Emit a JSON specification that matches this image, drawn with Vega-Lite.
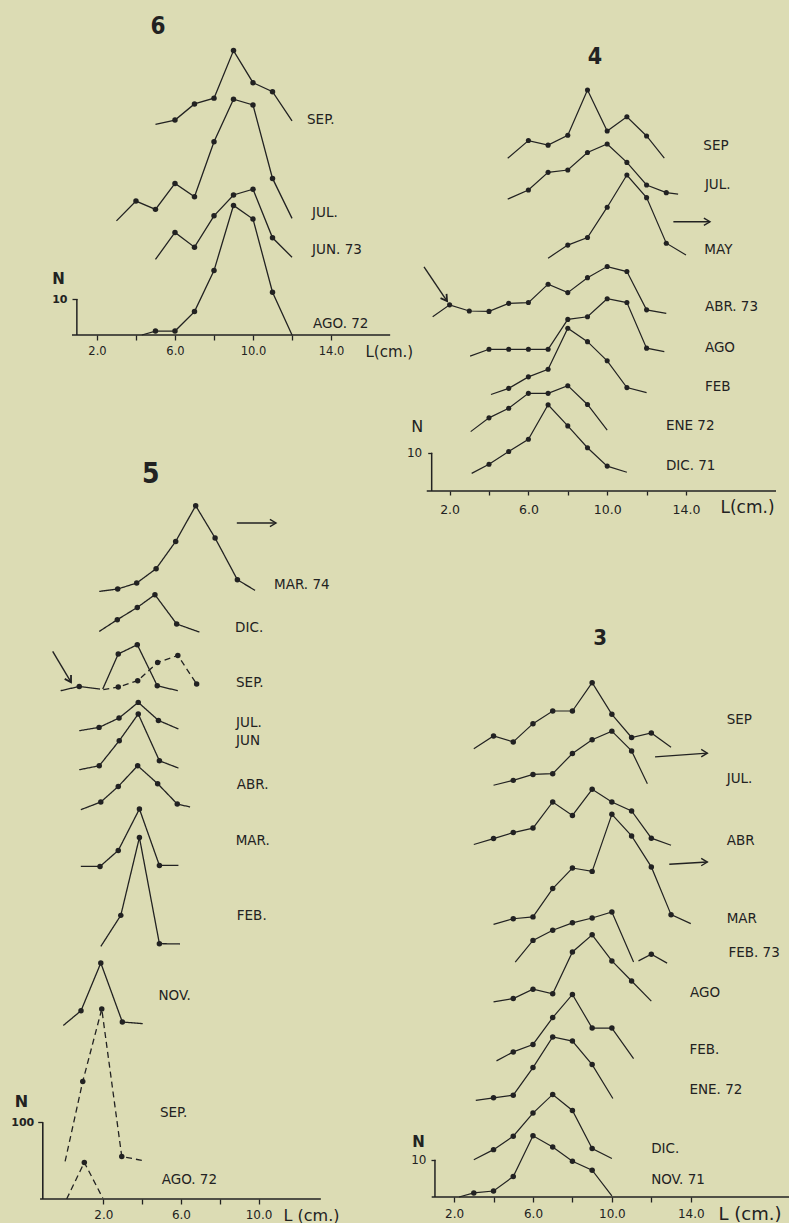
{
"$schema":"https://vega.github.io/schema/vega-lite/v6.json",
"padding":0,
"background":"#dcdcb4",
"config":{"view":{"stroke":null},
 "axis":{"domain":false,"grid":false,"tickColor":"#222","tickWidth":1.3,"labelColor":"#222","titleColor":"#222","labelFont":"DejaVu Sans","titleFont":"DejaVu Sans","titleFontWeight":"normal","labelFontWeight":"normal","labelOverlap":false,"labelFlush":false},
 "axisX":{"titleAlign":"left","titleBaseline":"middle","titleAngle":0,"labelBaseline":"top"},
 "axisY":{"titleAlign":"center","titleBaseline":"middle","titleAngle":0}},
"datasets":{
"c6":[
{"s":"SEP","L":5,"N":58.5,"d":0},{"s":"SEP","L":6,"N":59.7,"d":1},{"s":"SEP","L":7,"N":64.2,"d":1},{"s":"SEP","L":8,"N":65.8,"d":1},{"s":"SEP","L":9,"N":79.0,"d":1},{"s":"SEP","L":10,"N":70.1,"d":1},{"s":"SEP","L":11,"N":67.6,"d":1},{"s":"SEP","L":12,"N":59.5,"d":0},
{"s":"JUL","L":3,"N":31.7,"d":0},{"s":"JUL","L":4,"N":37.2,"d":1},{"s":"JUL","L":5,"N":34.9,"d":1},{"s":"JUL","L":6,"N":42.1,"d":1},{"s":"JUL","L":7,"N":38.4,"d":1},{"s":"JUL","L":8,"N":53.7,"d":1},{"s":"JUL","L":9,"N":65.5,"d":1},{"s":"JUL","L":10,"N":63.9,"d":1},{"s":"JUL","L":11,"N":43.5,"d":1},{"s":"JUL","L":12,"N":32.4,"d":0},
{"s":"JUN","L":5,"N":21.0,"d":0},{"s":"JUN","L":6,"N":28.5,"d":1},{"s":"JUN","L":7,"N":24.4,"d":1},{"s":"JUN","L":8,"N":33.1,"d":1},{"s":"JUN","L":9,"N":38.9,"d":1},{"s":"JUN","L":10,"N":40.5,"d":1},{"s":"JUN","L":11,"N":27.0,"d":1},{"s":"JUN","L":12,"N":21.6,"d":0},
{"s":"AGO","L":4.3,"N":0,"d":0},{"s":"AGO","L":5,"N":1.1,"d":1},{"s":"AGO","L":6,"N":1.1,"d":1},{"s":"AGO","L":7,"N":6.5,"d":1},{"s":"AGO","L":8,"N":17.9,"d":1},{"s":"AGO","L":9,"N":36.0,"d":1},{"s":"AGO","L":10,"N":32.2,"d":1},{"s":"AGO","L":11,"N":11.9,"d":1},{"s":"AGO","L":12,"N":0,"d":0}],
"t6":[
{"k":"title","t":"6","L":5.13,"N":85.6},
{"k":"lab","t":"SEP.","L":12.77,"N":59.7},
{"k":"lab","t":"JUL.","L":13.03,"N":33.9},
{"k":"lab","t":"JUN. 73","L":13.03,"N":23.6},
{"k":"lab","t":"AGO. 72","L":13.08,"N":3.1}],
"c5":[
{"s":"MAR74","dash":"solid","L":1.79,"N":792.2,"d":0},{"s":"MAR74","dash":"solid","L":2.74,"N":795.3,"d":1},{"s":"MAR74","dash":"solid","L":3.72,"N":803.1,"d":1},{"s":"MAR74","dash":"solid","L":4.72,"N":821.8,"d":1},{"s":"MAR74","dash":"solid","L":5.73,"N":857.4,"d":1},{"s":"MAR74","dash":"solid","L":6.76,"N":903.9,"d":1},{"s":"MAR74","dash":"solid","L":7.76,"N":861.8,"d":1},{"s":"MAR74","dash":"solid","L":8.91,"N":807.4,"d":1},{"s":"MAR74","dash":"solid","L":9.82,"N":793.5,"d":0},
{"s":"DIC","dash":"solid","L":1.79,"N":740.0,"d":0},{"s":"DIC","dash":"solid","L":2.72,"N":755.3,"d":1},{"s":"DIC","dash":"solid","L":3.75,"N":771.3,"d":1},{"s":"DIC","dash":"solid","L":4.66,"N":787.9,"d":1},{"s":"DIC","dash":"solid","L":5.78,"N":749.7,"d":1},{"s":"DIC","dash":"solid","L":6.95,"N":739.2,"d":0},
{"s":"SEPa","dash":"solid","L":-0.2,"N":662.7,"d":0},{"s":"SEPa","dash":"solid","L":0.76,"N":668.3,"d":1},{"s":"SEPa","dash":"solid","L":1.83,"N":664.9,"d":0},
{"s":"SEPb","dash":"solid","L":1.97,"N":664.9,"d":0},{"s":"SEPb","dash":"solid","L":2.77,"N":710.6,"d":1},{"s":"SEPb","dash":"solid","L":3.75,"N":722.7,"d":1},{"s":"SEPb","dash":"solid","L":4.78,"N":669.2,"d":1},{"s":"SEPb","dash":"solid","L":5.84,"N":662.7,"d":0},
{"s":"SEPc","dash":"dashed","L":2.0,"N":664.0,"d":0},{"s":"SEPc","dash":"dashed","L":2.77,"N":667.5,"d":1},{"s":"SEPc","dash":"dashed","L":3.77,"N":675.8,"d":1},{"s":"SEPc","dash":"dashed","L":4.8,"N":699.6,"d":1},{"s":"SEPc","dash":"dashed","L":5.84,"N":708.7,"d":1},{"s":"SEPc","dash":"dashed","L":6.81,"N":671.4,"d":1},
{"s":"JUL","dash":"solid","L":0.76,"N":610.6,"d":0},{"s":"JUL","dash":"solid","L":1.78,"N":614.9,"d":1},{"s":"JUL","dash":"solid","L":2.81,"N":627.1,"d":1},{"s":"JUL","dash":"solid","L":3.8,"N":647.5,"d":1},{"s":"JUL","dash":"solid","L":4.84,"N":624.0,"d":1},{"s":"JUL","dash":"solid","L":5.87,"N":612.8,"d":0},
{"s":"JUN","dash":"solid","L":0.76,"N":559.7,"d":0},{"s":"JUN","dash":"solid","L":1.79,"N":564.9,"d":1},{"s":"JUN","dash":"solid","L":2.82,"N":597.5,"d":1},{"s":"JUN","dash":"solid","L":3.8,"N":632.3,"d":1},{"s":"JUN","dash":"solid","L":4.89,"N":571.4,"d":1},{"s":"JUN","dash":"solid","L":5.87,"N":561.9,"d":0},
{"s":"ABR","dash":"solid","L":0.84,"N":507.6,"d":0},{"s":"ABR","dash":"solid","L":1.87,"N":517.6,"d":1},{"s":"ABR","dash":"solid","L":2.77,"N":537.9,"d":1},{"s":"ABR","dash":"solid","L":3.77,"N":564.9,"d":1},{"s":"ABR","dash":"solid","L":4.8,"N":541.5,"d":1},{"s":"ABR","dash":"solid","L":5.81,"N":515.0,"d":1},{"s":"ABR","dash":"solid","L":6.47,"N":511.1,"d":0},
{"s":"MAR","dash":"solid","L":0.84,"N":433.6,"d":0},{"s":"MAR","dash":"solid","L":1.83,"N":433.6,"d":1},{"s":"MAR","dash":"solid","L":2.77,"N":454.5,"d":1},{"s":"MAR","dash":"solid","L":3.86,"N":508.5,"d":1},{"s":"MAR","dash":"solid","L":4.89,"N":434.9,"d":1},{"s":"MAR","dash":"solid","L":5.87,"N":434.9,"d":0},
{"s":"FEB","dash":"solid","L":1.87,"N":329.3,"d":0},{"s":"FEB","dash":"solid","L":2.9,"N":369.8,"d":1},{"s":"FEB","dash":"solid","L":3.86,"N":471.4,"d":1},{"s":"FEB","dash":"solid","L":4.89,"N":332.9,"d":1},{"s":"FEB","dash":"solid","L":5.95,"N":332.5,"d":0},
{"s":"NOV","dash":"solid","L":-0.06,"N":226.3,"d":0},{"s":"NOV","dash":"solid","L":0.85,"N":245.5,"d":1},{"s":"NOV","dash":"solid","L":1.87,"N":307.7,"d":1},{"s":"NOV","dash":"solid","L":2.98,"N":230.8,"d":1},{"s":"NOV","dash":"solid","L":4.03,"N":228.6,"d":0},
{"s":"SEP72","dash":"dashed","L":0.03,"N":49.0,"d":0},{"s":"SEP72","dash":"dashed","L":0.94,"N":153.3,"d":1},{"s":"SEP72","dash":"dashed","L":1.92,"N":247.7,"d":1},{"s":"SEP72","dash":"dashed","L":2.95,"N":55.5,"d":1},{"s":"SEP72","dash":"dashed","L":4.06,"N":49.9,"d":0},
{"s":"AGO72","dash":"dashed","L":0.11,"N":0,"d":0},{"s":"AGO72","dash":"dashed","L":1.02,"N":47.7,"d":1},{"s":"AGO72","dash":"dashed","L":1.97,"N":1.3,"d":0}],
"t5":[
{"k":"title","t":"5","L":4.44,"N":944.3},
{"k":"lab","t":"MAR. 74","L":10.8,"N":800.9},
{"k":"lab","t":"DIC.","L":8.79,"N":744.5},
{"k":"lab","t":"SEP.","L":8.84,"N":672.7},
{"k":"lab","t":"JUL.","L":8.84,"N":620.6},
{"k":"lab","t":"JUN","L":8.84,"N":596.6},
{"k":"lab","t":"ABR.","L":8.88,"N":540.2},
{"k":"lab","t":"MAR.","L":8.82,"N":466.2},
{"k":"lab","t":"FEB.","L":8.88,"N":368.4},
{"k":"lab","t":"NOV.","L":4.84,"N":264.1},
{"k":"lab","t":"SEP.","L":4.92,"N":112.1},
{"k":"lab","t":"AGO. 72","L":5.01,"N":25.2}],
"a5":[
{"k":"h","L":8.88,"N":881.4,"L2":10.9,"N2":881.4},
{"k":"d","L":-0.61,"N":713.9,"L2":0.335,"N2":673.8}],
"c4":[
{"s":"SEP","L":4.95,"N":86.9,"d":0},{"s":"SEP","L":6,"N":91.5,"d":1},{"s":"SEP","L":7,"N":90.3,"d":1},{"s":"SEP","L":8,"N":92.9,"d":1},{"s":"SEP","L":9,"N":104.7,"d":1},{"s":"SEP","L":10,"N":94.0,"d":1},{"s":"SEP","L":11,"N":97.7,"d":1},{"s":"SEP","L":12,"N":92.7,"d":1},{"s":"SEP","L":12.9,"N":86.9,"d":0},
{"s":"JUL","L":4.95,"N":76.2,"d":0},{"s":"JUL","L":6,"N":78.6,"d":1},{"s":"JUL","L":7,"N":83.2,"d":1},{"s":"JUL","L":8,"N":83.8,"d":1},{"s":"JUL","L":9,"N":88.4,"d":1},{"s":"JUL","L":10,"N":90.6,"d":1},{"s":"JUL","L":11,"N":85.8,"d":1},{"s":"JUL","L":12,"N":79.9,"d":1},{"s":"JUL","L":13,"N":77.9,"d":1},{"s":"JUL","L":13.6,"N":77.5,"d":0},
{"s":"MAY","L":7,"N":60.8,"d":0},{"s":"MAY","L":8,"N":64.2,"d":1},{"s":"MAY","L":9,"N":66.2,"d":1},{"s":"MAY","L":10,"N":74.1,"d":1},{"s":"MAY","L":11,"N":82.5,"d":1},{"s":"MAY","L":12,"N":76.6,"d":1},{"s":"MAY","L":13,"N":64.7,"d":1},{"s":"MAY","L":14,"N":61.6,"d":0},
{"s":"ABR","L":1.14,"N":45.5,"d":0},{"s":"ABR","L":2,"N":48.6,"d":1},{"s":"ABR","L":3,"N":47.0,"d":1},{"s":"ABR","L":4,"N":46.9,"d":1},{"s":"ABR","L":5,"N":49.0,"d":1},{"s":"ABR","L":6,"N":49.2,"d":1},{"s":"ABR","L":7,"N":54.0,"d":1},{"s":"ABR","L":8,"N":51.8,"d":1},{"s":"ABR","L":9,"N":55.7,"d":1},{"s":"ABR","L":10,"N":58.6,"d":1},{"s":"ABR","L":11,"N":57.3,"d":1},{"s":"ABR","L":12,"N":47.3,"d":1},{"s":"ABR","L":13,"N":46.4,"d":0},
{"s":"AGO","L":3.04,"N":35.2,"d":0},{"s":"AGO","L":4,"N":37.0,"d":1},{"s":"AGO","L":5,"N":37.0,"d":1},{"s":"AGO","L":6,"N":37.0,"d":1},{"s":"AGO","L":7,"N":37.0,"d":1},{"s":"AGO","L":8,"N":44.8,"d":1},{"s":"AGO","L":9,"N":45.5,"d":1},{"s":"AGO","L":10,"N":50.2,"d":1},{"s":"AGO","L":11,"N":49.2,"d":1},{"s":"AGO","L":12,"N":37.3,"d":1},{"s":"AGO","L":12.9,"N":36.4,"d":0},
{"s":"FEB","L":4.1,"N":25.2,"d":0},{"s":"FEB","L":5,"N":26.8,"d":1},{"s":"FEB","L":6,"N":29.8,"d":1},{"s":"FEB","L":7,"N":31.8,"d":1},{"s":"FEB","L":8,"N":42.5,"d":1},{"s":"FEB","L":9,"N":39.0,"d":1},{"s":"FEB","L":10,"N":34.0,"d":1},{"s":"FEB","L":11,"N":27.0,"d":1},{"s":"FEB","L":12,"N":25.7,"d":0},
{"s":"ENE","L":3.07,"N":15.5,"d":0},{"s":"ENE","L":4,"N":19.1,"d":1},{"s":"ENE","L":5,"N":21.6,"d":1},{"s":"ENE","L":6,"N":25.5,"d":1},{"s":"ENE","L":7,"N":25.5,"d":1},{"s":"ENE","L":8,"N":27.5,"d":1},{"s":"ENE","L":9,"N":22.6,"d":1},{"s":"ENE","L":10,"N":15.9,"d":0},
{"s":"DIC","L":3.12,"N":4.6,"d":0},{"s":"DIC","L":4,"N":7.0,"d":1},{"s":"DIC","L":5,"N":10.3,"d":1},{"s":"DIC","L":6,"N":13.5,"d":1},{"s":"DIC","L":7,"N":22.5,"d":1},{"s":"DIC","L":8,"N":17.0,"d":1},{"s":"DIC","L":9,"N":11.3,"d":1},{"s":"DIC","L":10,"N":6.5,"d":1},{"s":"DIC","L":11,"N":4.9,"d":0}],
"t4":[
{"k":"title","t":"4","L":9.38,"N":113.4},
{"k":"lab","t":"SEP","L":14.88,"N":90.1},
{"k":"lab","t":"JUL.","L":14.96,"N":79.9},
{"k":"lab","t":"MAY","L":14.93,"N":62.9},
{"k":"lab","t":"ABR. 73","L":14.96,"N":48.0},
{"k":"lab","t":"AGO","L":14.96,"N":37.3},
{"k":"lab","t":"FEB","L":14.96,"N":27.1},
{"k":"lab","t":"ENE  72","L":12.98,"N":17.0},
{"k":"lab","t":"DIC.  71","L":12.98,"N":6.6}],
"a4":[
{"k":"h","L":13.36,"N":70.3,"L2":15.22,"N2":70.3},
{"k":"d","L":0.7,"N":58.5,"L2":1.87,"N2":49.6}],
"c3":[
{"s":"SEP","L":3,"N":120.2,"d":0},{"s":"SEP","L":4,"N":123.6,"d":1},{"s":"SEP","L":5,"N":122.0,"d":1},{"s":"SEP","L":6,"N":126.9,"d":1},{"s":"SEP","L":7,"N":130.3,"d":1},{"s":"SEP","L":8,"N":130.3,"d":1},{"s":"SEP","L":9,"N":137.9,"d":1},{"s":"SEP","L":10,"N":129.4,"d":1},{"s":"SEP","L":11,"N":123.2,"d":1},{"s":"SEP","L":12,"N":124.4,"d":1},{"s":"SEP","L":13,"N":120.6,"d":0},
{"s":"JUL","L":4,"N":110.4,"d":0},{"s":"JUL","L":5,"N":111.7,"d":1},{"s":"JUL","L":6,"N":113.3,"d":1},{"s":"JUL","L":7,"N":113.5,"d":1},{"s":"JUL","L":8,"N":118.9,"d":1},{"s":"JUL","L":9,"N":122.6,"d":1},{"s":"JUL","L":10,"N":124.9,"d":1},{"s":"JUL","L":11,"N":119.6,"d":1},{"s":"JUL","L":11.8,"N":110.8,"d":0},
{"s":"ABR","L":3,"N":94.5,"d":0},{"s":"ABR","L":4,"N":96.1,"d":1},{"s":"ABR","L":5,"N":97.7,"d":1},{"s":"ABR","L":6,"N":98.9,"d":1},{"s":"ABR","L":7,"N":105.9,"d":1},{"s":"ABR","L":8,"N":102.3,"d":1},{"s":"ABR","L":9,"N":109.3,"d":1},{"s":"ABR","L":10,"N":105.9,"d":1},{"s":"ABR","L":11,"N":103.5,"d":1},{"s":"ABR","L":12,"N":96.2,"d":1},{"s":"ABR","L":13,"N":94.3,"d":0},
{"s":"MAR","L":4,"N":73.1,"d":0},{"s":"MAR","L":5,"N":74.6,"d":1},{"s":"MAR","L":6,"N":75.1,"d":1},{"s":"MAR","L":7,"N":82.7,"d":1},{"s":"MAR","L":8,"N":88.2,"d":1},{"s":"MAR","L":9,"N":87.3,"d":1},{"s":"MAR","L":10,"N":102.6,"d":1},{"s":"MAR","L":11,"N":96.8,"d":1},{"s":"MAR","L":12,"N":88.5,"d":1},{"s":"MAR","L":13,"N":75.7,"d":1},{"s":"MAR","L":14,"N":73.3,"d":0},
{"s":"FEB73a","L":5.1,"N":63.0,"d":0},{"s":"FEB73a","L":6,"N":68.8,"d":1},{"s":"FEB73a","L":7,"N":71.5,"d":1},{"s":"FEB73a","L":8,"N":73.5,"d":1},{"s":"FEB73a","L":9,"N":74.8,"d":1},{"s":"FEB73a","L":10,"N":76.4,"d":1},{"s":"FEB73a","L":11.1,"N":63.0,"d":0},
{"s":"FEB73b","L":11.35,"N":63.3,"d":0},{"s":"FEB73b","L":12,"N":65.1,"d":1},{"s":"FEB73b","L":12.8,"N":62.7,"d":0},
{"s":"AGO","L":4,"N":52.3,"d":0},{"s":"AGO","L":5,"N":53.2,"d":1},{"s":"AGO","L":6,"N":55.7,"d":1},{"s":"AGO","L":7,"N":54.5,"d":1},{"s":"AGO","L":8,"N":65.7,"d":1},{"s":"AGO","L":9,"N":70.3,"d":1},{"s":"AGO","L":10,"N":63.3,"d":1},{"s":"AGO","L":11,"N":57.9,"d":1},{"s":"AGO","L":12,"N":52.5,"d":0},
{"s":"FEB","L":4.15,"N":36.5,"d":0},{"s":"FEB","L":5,"N":38.9,"d":1},{"s":"FEB","L":6,"N":40.9,"d":1},{"s":"FEB","L":7,"N":48.1,"d":1},{"s":"FEB","L":8,"N":54.3,"d":1},{"s":"FEB","L":9,"N":45.3,"d":1},{"s":"FEB","L":10,"N":45.3,"d":1},{"s":"FEB","L":11.1,"N":37.1,"d":0},
{"s":"ENE","L":3.1,"N":25.9,"d":0},{"s":"ENE","L":4,"N":26.6,"d":1},{"s":"ENE","L":5,"N":27.3,"d":1},{"s":"ENE","L":6,"N":34.7,"d":1},{"s":"ENE","L":7,"N":42.9,"d":1},{"s":"ENE","L":8,"N":41.8,"d":1},{"s":"ENE","L":9,"N":35.5,"d":1},{"s":"ENE","L":10.05,"N":26.4,"d":0},
{"s":"DIC","L":3,"N":10.0,"d":0},{"s":"DIC","L":4,"N":12.7,"d":1},{"s":"DIC","L":5,"N":16.3,"d":1},{"s":"DIC","L":6,"N":22.5,"d":1},{"s":"DIC","L":7,"N":27.5,"d":1},{"s":"DIC","L":8,"N":23.2,"d":1},{"s":"DIC","L":9,"N":13.0,"d":1},{"s":"DIC","L":10,"N":10.3,"d":0},
{"s":"NOV","L":2.25,"N":0,"d":0},{"s":"NOV","L":3,"N":1.1,"d":1},{"s":"NOV","L":4,"N":1.6,"d":1},{"s":"NOV","L":5,"N":5.5,"d":1},{"s":"NOV","L":6,"N":16.4,"d":1},{"s":"NOV","L":7,"N":13.4,"d":1},{"s":"NOV","L":8,"N":9.6,"d":1},{"s":"NOV","L":9,"N":7.2,"d":1},{"s":"NOV","L":10,"N":0.3,"d":0}],
"t3":[
{"k":"title","t":"3","L":9.4,"N":150.0},
{"k":"lab","t":"SEP","L":15.82,"N":127.8},
{"k":"lab","t":"JUL.","L":15.82,"N":112.2},
{"k":"lab","t":"ABR","L":15.82,"N":95.4},
{"k":"lab","t":"MAR","L":15.82,"N":74.6},
{"k":"lab","t":"FEB. 73","L":15.91,"N":65.4},
{"k":"lab","t":"AGO","L":13.96,"N":54.7},
{"k":"lab","t":"FEB.","L":13.93,"N":39.3},
{"k":"lab","t":"ENE. 72","L":13.93,"N":28.6},
{"k":"lab","t":"DIC.","L":11.99,"N":13.0},
{"k":"lab","t":"NOV. 71","L":11.99,"N":4.5}],
"a3":[
{"k":"h","L":12.19,"N":118.0,"L2":14.84,"N2":119.0},
{"k":"h","L":12.91,"N":89.2,"L2":14.84,"N2":89.8}]
},
"columns":2,
"bounds":"flush",
"spacing":0,
"concat":[
{"width":420,"height":335,"layer":[
 {"data":{"name":"c6"},"mark":{"type":"line","color":"#222","strokeWidth":1.3},"encoding":{
  "x":{"field":"L","type":"quantitative","scale":{"domain":[-2.97,18.56],"nice":false,"zero":false},"axis":{"values":[2,4,6,8,10,12,14],"labelExpr":"indexof([2,6,10,14], datum.value) >= 0 ? format(datum.value, '.1f') : ''","title":"L(cm.)","titleX":365,"titleY":16,"titleFontSize":15,"labelFontSize":11.5,"labelPadding":5,"tickSize":5}},
  "y":{"field":"N","type":"quantitative","scale":{"domain":[0,93.06],"nice":false,"zero":false},"axis":{"values":[10],"offset":-77,"title":"N","titleX":-19,"titleY":278,"titleFontSize":15,"titleFontWeight":"bold","labelFontSize":11,"labelFontWeight":"bold","labelPadding":5,"tickSize":5}},
  "detail":{"field":"s"}}},
 {"data":{"name":"c6"},"transform":[{"filter":"datum.d==1"}],"mark":{"type":"point","filled":true,"color":"#222","size":30,"opacity":1},"encoding":{
  "x":{"field":"L","type":"quantitative","scale":{"domain":[-2.97,18.56],"nice":false,"zero":false}},
  "y":{"field":"N","type":"quantitative","scale":{"domain":[0,93.06],"nice":false,"zero":false}}}},
 {"data":{"values":[{}]},"mark":{"type":"rule","color":"#222","strokeWidth":1.5},"encoding":{
  "x":{"datum":0.72,"type":"quantitative","scale":{"domain":[-2.97,18.56],"nice":false,"zero":false}},"x2":{"datum":17.03},
  "y":{"datum":0,"type":"quantitative","scale":{"domain":[0,93.06],"nice":false,"zero":false}}}},
 {"data":{"values":[{}]},"mark":{"type":"rule","color":"#222","strokeWidth":1.5},"encoding":{
  "x":{"datum":0.97,"type":"quantitative","scale":{"domain":[-2.97,18.56],"nice":false,"zero":false}},
  "y":{"datum":0,"type":"quantitative","scale":{"domain":[0,93.06],"nice":false,"zero":false}},"y2":{"datum":10}}},
 {"data":{"name":"t6"},"transform":[{"filter":"datum.k=='lab'"}],"mark":{"type":"text","align":"left","baseline":"middle","font":"DejaVu Sans","fontSize":13.5,"color":"#222"},"encoding":{
  "x":{"field":"L","type":"quantitative","scale":{"domain":[-2.97,18.56],"nice":false,"zero":false}},
  "y":{"field":"N","type":"quantitative","scale":{"domain":[0,93.06],"nice":false,"zero":false}},"text":{"field":"t"}}},
 {"data":{"name":"t6"},"transform":[{"filter":"datum.k=='title'"}],"mark":{"type":"text","align":"center","baseline":"middle","font":"DejaVu Sans Condensed","fontWeight":"bold","fontSize":24,"color":"#222"},"encoding":{
  "x":{"field":"L","type":"quantitative","scale":{"domain":[-2.97,18.56],"nice":false,"zero":false}},
  "y":{"field":"N","type":"quantitative","scale":{"domain":[0,93.06],"nice":false,"zero":false}},"text":{"field":"t"}}}
]},
{"width":369,"height":491,"layer":[
 {"data":{"name":"c4"},"mark":{"type":"line","color":"#222","strokeWidth":1.2},"encoding":{
  "x":{"field":"L","type":"quantitative","scale":{"domain":[0.497,19.23],"nice":false,"zero":false},"axis":{"values":[2,4,6,8,10,12,14],"labelExpr":"indexof([2,6,10,14], datum.value) >= 0 ? format(datum.value, '.1f') : ''","title":"L(cm.)","titleX":300,"titleY":16,"titleFontSize":17,"labelFontSize":12.5,"labelPadding":8,"tickSize":4}},
  "y":{"field":"N","type":"quantitative","scale":{"domain":[0,128.2],"nice":false,"zero":false},"axis":{"values":[10],"offset":-11.7,"title":"N","titleX":-15,"titleY":426.7,"titleFontSize":16,"labelFontSize":12,"labelPadding":6,"tickSize":4}},
  "detail":{"field":"s"}}},
 {"data":{"name":"c4"},"transform":[{"filter":"datum.d==1"}],"mark":{"type":"point","filled":true,"color":"#222","size":26,"opacity":1},"encoding":{
  "x":{"field":"L","type":"quantitative","scale":{"domain":[0.497,19.23],"nice":false,"zero":false}},
  "y":{"field":"N","type":"quantitative","scale":{"domain":[0,128.2],"nice":false,"zero":false}}}},
 {"data":{"values":[{}]},"mark":{"type":"rule","color":"#222","strokeWidth":1.5},"encoding":{
  "x":{"datum":0.84,"type":"quantitative","scale":{"domain":[0.497,19.23],"nice":false,"zero":false}},"x2":{"datum":18.57},
  "y":{"datum":0,"type":"quantitative","scale":{"domain":[0,128.2],"nice":false,"zero":false}}}},
 {"data":{"values":[{}]},"mark":{"type":"rule","color":"#222","strokeWidth":1.5},"encoding":{
  "x":{"datum":1.09,"type":"quantitative","scale":{"domain":[0.497,19.23],"nice":false,"zero":false}},
  "y":{"datum":0,"type":"quantitative","scale":{"domain":[0,128.2],"nice":false,"zero":false}},"y2":{"datum":10}}},
 {"data":{"name":"t4"},"transform":[{"filter":"datum.k=='lab'"}],"mark":{"type":"text","align":"left","baseline":"middle","font":"DejaVu Sans","fontSize":13.5,"color":"#222"},"encoding":{
  "x":{"field":"L","type":"quantitative","scale":{"domain":[0.497,19.23],"nice":false,"zero":false}},
  "y":{"field":"N","type":"quantitative","scale":{"domain":[0,128.2],"nice":false,"zero":false}},"text":{"field":"t"}}},
 {"data":{"name":"t4"},"transform":[{"filter":"datum.k=='title'"}],"mark":{"type":"text","align":"center","baseline":"middle","font":"DejaVu Sans Condensed","fontWeight":"bold","fontSize":23,"color":"#222"},"encoding":{
  "x":{"field":"L","type":"quantitative","scale":{"domain":[0.497,19.23],"nice":false,"zero":false}},
  "y":{"field":"N","type":"quantitative","scale":{"domain":[0,128.2],"nice":false,"zero":false}},"text":{"field":"t"}}},
 {"data":{"name":"a4"},"mark":{"type":"rule","color":"#222","strokeWidth":1.4},"encoding":{
  "x":{"field":"L","type":"quantitative","scale":{"domain":[0.497,19.23],"nice":false,"zero":false}},"x2":{"field":"L2"},
  "y":{"field":"N","type":"quantitative","scale":{"domain":[0,128.2],"nice":false,"zero":false}},"y2":{"field":"N2"}}},
 {"data":{"name":"a4"},"transform":[{"filter":"datum.k=='h'"}],"mark":{"type":"point","shape":"M-1,-0.6L0,0L-1,0.6","filled":false,"color":"#222","strokeWidth":1.4,"size":150,"opacity":1},"encoding":{
  "x":{"field":"L2","type":"quantitative","scale":{"domain":[0.497,19.23],"nice":false,"zero":false}},
  "y":{"field":"N2","type":"quantitative","scale":{"domain":[0,128.2],"nice":false,"zero":false}}}},
 {"data":{"name":"a4"},"transform":[{"filter":"datum.k=='d'"}],"mark":{"type":"point","shape":"M-1,-0.6L0,0L-1,0.6","filled":false,"color":"#222","strokeWidth":1.8,"size":150,"angle":55,"opacity":1},"encoding":{
  "x":{"field":"L2","type":"quantitative","scale":{"domain":[0.497,19.23],"nice":false,"zero":false}},
  "y":{"field":"N2","type":"quantitative","scale":{"domain":[0,128.2],"nice":false,"zero":false}}}}
]},
{"width":420,"height":708,"layer":[
 {"data":{"name":"c5"},"mark":{"type":"line","color":"#222","strokeWidth":1.3},"encoding":{
  "x":{"field":"L","type":"quantitative","scale":{"domain":[-3.325,18.32],"nice":false,"zero":false},"axis":{"values":[2,4,6,8,10],"labelExpr":"indexof([2,6,10], datum.value) >= 0 ? format(datum.value, '.1f') : ''","title":"L (cm.)","titleX":283,"titleY":16,"titleFontSize":16,"labelFontSize":12,"labelPadding":5,"tickSize":5}},
  "y":{"field":"N","type":"quantitative","scale":{"domain":[0,923.1],"nice":false,"zero":false},"axis":{"values":[100],"offset":-42.7,"title":"N","titleX":-21.7,"titleY":610.7,"titleFontSize":16,"titleFontWeight":"bold","labelFontSize":11,"labelFontWeight":"bold","labelPadding":4,"tickSize":5}},
  "detail":{"field":"s"},
  "strokeDash":{"field":"dash","type":"nominal","scale":{"domain":["solid","dashed"],"range":[[1,0],[6,4]]},"legend":null}}},
 {"data":{"name":"c5"},"transform":[{"filter":"datum.d==1"}],"mark":{"type":"point","filled":true,"color":"#222","size":30,"opacity":1},"encoding":{
  "x":{"field":"L","type":"quantitative","scale":{"domain":[-3.325,18.32],"nice":false,"zero":false}},
  "y":{"field":"N","type":"quantitative","scale":{"domain":[0,923.1],"nice":false,"zero":false}}}},
 {"data":{"values":[{}]},"mark":{"type":"rule","color":"#222","strokeWidth":1.6},"encoding":{
  "x":{"datum":-1.26,"type":"quantitative","scale":{"domain":[-3.325,18.32],"nice":false,"zero":false}},"x2":{"datum":13.21},
  "y":{"datum":0,"type":"quantitative","scale":{"domain":[0,923.1],"nice":false,"zero":false}}}},
 {"data":{"values":[{}]},"mark":{"type":"rule","color":"#222","strokeWidth":1.6},"encoding":{
  "x":{"datum":-1.12,"type":"quantitative","scale":{"domain":[-3.325,18.32],"nice":false,"zero":false}},
  "y":{"datum":0,"type":"quantitative","scale":{"domain":[0,923.1],"nice":false,"zero":false}},"y2":{"datum":100}}},
 {"data":{"name":"t5"},"transform":[{"filter":"datum.k=='lab'"}],"mark":{"type":"text","align":"left","baseline":"middle","font":"DejaVu Sans","fontSize":13.5,"color":"#222"},"encoding":{
  "x":{"field":"L","type":"quantitative","scale":{"domain":[-3.325,18.32],"nice":false,"zero":false}},
  "y":{"field":"N","type":"quantitative","scale":{"domain":[0,923.1],"nice":false,"zero":false}},"text":{"field":"t"}}},
 {"data":{"name":"t5"},"transform":[{"filter":"datum.k=='title'"}],"mark":{"type":"text","align":"center","baseline":"middle","font":"DejaVu Sans Condensed","fontWeight":"bold","fontSize":28,"color":"#222"},"encoding":{
  "x":{"field":"L","type":"quantitative","scale":{"domain":[-3.325,18.32],"nice":false,"zero":false}},
  "y":{"field":"N","type":"quantitative","scale":{"domain":[0,923.1],"nice":false,"zero":false}},"text":{"field":"t"}}},
 {"data":{"name":"a5"},"mark":{"type":"rule","color":"#222","strokeWidth":1.4},"encoding":{
  "x":{"field":"L","type":"quantitative","scale":{"domain":[-3.325,18.32],"nice":false,"zero":false}},"x2":{"field":"L2"},
  "y":{"field":"N","type":"quantitative","scale":{"domain":[0,923.1],"nice":false,"zero":false}},"y2":{"field":"N2"}}},
 {"data":{"name":"a5"},"transform":[{"filter":"datum.k=='h'"}],"mark":{"type":"point","shape":"M-1,-0.6L0,0L-1,0.6","filled":false,"color":"#222","strokeWidth":1.4,"size":150,"opacity":1},"encoding":{
  "x":{"field":"L2","type":"quantitative","scale":{"domain":[-3.325,18.32],"nice":false,"zero":false}},
  "y":{"field":"N2","type":"quantitative","scale":{"domain":[0,923.1],"nice":false,"zero":false}}}},
 {"data":{"name":"a5"},"transform":[{"filter":"datum.k=='d'"}],"mark":{"type":"point","shape":"M-1,-0.6L0,0L-1,0.6","filled":false,"color":"#222","strokeWidth":1.8,"size":150,"angle":59,"opacity":1},"encoding":{
  "x":{"field":"L2","type":"quantitative","scale":{"domain":[-3.325,18.32],"nice":false,"zero":false}},
  "y":{"field":"N2","type":"quantitative","scale":{"domain":[0,923.1],"nice":false,"zero":false}}}}
]},
{"width":369,"height":706,"layer":[
 {"data":{"name":"c3"},"mark":{"type":"line","color":"#222","strokeWidth":1.2},"encoding":{
  "x":{"field":"L","type":"quantitative","scale":{"domain":[0.272,18.98],"nice":false,"zero":false},"axis":{"values":[2,4,6,8,10,12,14],"labelExpr":"indexof([2,6,10,14], datum.value) >= 0 ? format(datum.value, '.1f') : ''","title":"L (cm.)","titleX":298,"titleY":17,"titleFontSize":18,"labelFontSize":12,"labelPadding":6,"tickSize":5}},
  "y":{"field":"N","type":"quantitative","scale":{"domain":[0,189.28],"nice":false,"zero":false},"axis":{"values":[10],"offset":-15,"title":"N","titleX":-17,"titleY":650,"titleFontSize":15,"titleFontWeight":"bold","labelFontSize":12,"labelPadding":5,"tickSize":4}},
  "detail":{"field":"s"}}},
 {"data":{"name":"c3"},"transform":[{"filter":"datum.d==1"}],"mark":{"type":"point","filled":true,"color":"#222","size":30,"opacity":1},"encoding":{
  "x":{"field":"L","type":"quantitative","scale":{"domain":[0.272,18.98],"nice":false,"zero":false}},
  "y":{"field":"N","type":"quantitative","scale":{"domain":[0,189.28],"nice":false,"zero":false}}}},
 {"data":{"values":[{}]},"mark":{"type":"rule","color":"#222","strokeWidth":1.5},"encoding":{
  "x":{"datum":0.865,"type":"quantitative","scale":{"domain":[0.272,18.98],"nice":false,"zero":false}},"x2":{"datum":18.98},
  "y":{"datum":0,"type":"quantitative","scale":{"domain":[0,189.28],"nice":false,"zero":false}}}},
 {"data":{"values":[{}]},"mark":{"type":"rule","color":"#222","strokeWidth":1.5},"encoding":{
  "x":{"datum":1.03,"type":"quantitative","scale":{"domain":[0.272,18.98],"nice":false,"zero":false}},
  "y":{"datum":0,"type":"quantitative","scale":{"domain":[0,189.28],"nice":false,"zero":false}},"y2":{"datum":10}}},
 {"data":{"name":"t3"},"transform":[{"filter":"datum.k=='lab'"}],"mark":{"type":"text","align":"left","baseline":"middle","font":"DejaVu Sans","fontSize":13.5,"color":"#222"},"encoding":{
  "x":{"field":"L","type":"quantitative","scale":{"domain":[0.272,18.98],"nice":false,"zero":false}},
  "y":{"field":"N","type":"quantitative","scale":{"domain":[0,189.28],"nice":false,"zero":false}},"text":{"field":"t"}}},
 {"data":{"name":"t3"},"transform":[{"filter":"datum.k=='title'"}],"mark":{"type":"text","align":"center","baseline":"middle","font":"DejaVu Sans Condensed","fontWeight":"bold","fontSize":22,"color":"#222"},"encoding":{
  "x":{"field":"L","type":"quantitative","scale":{"domain":[0.272,18.98],"nice":false,"zero":false}},
  "y":{"field":"N","type":"quantitative","scale":{"domain":[0,189.28],"nice":false,"zero":false}},"text":{"field":"t"}}},
 {"data":{"name":"a3"},"mark":{"type":"rule","color":"#222","strokeWidth":1.4},"encoding":{
  "x":{"field":"L","type":"quantitative","scale":{"domain":[0.272,18.98],"nice":false,"zero":false}},"x2":{"field":"L2"},
  "y":{"field":"N","type":"quantitative","scale":{"domain":[0,189.28],"nice":false,"zero":false}},"y2":{"field":"N2"}}},
 {"data":{"name":"a3"},"mark":{"type":"point","shape":"M-1,-0.6L0,0L-1,0.6","filled":false,"color":"#222","strokeWidth":1.4,"size":150,"opacity":1},"encoding":{
  "x":{"field":"L2","type":"quantitative","scale":{"domain":[0.272,18.98],"nice":false,"zero":false}},
  "y":{"field":"N2","type":"quantitative","scale":{"domain":[0,189.28],"nice":false,"zero":false}}}}
]}
]
}
